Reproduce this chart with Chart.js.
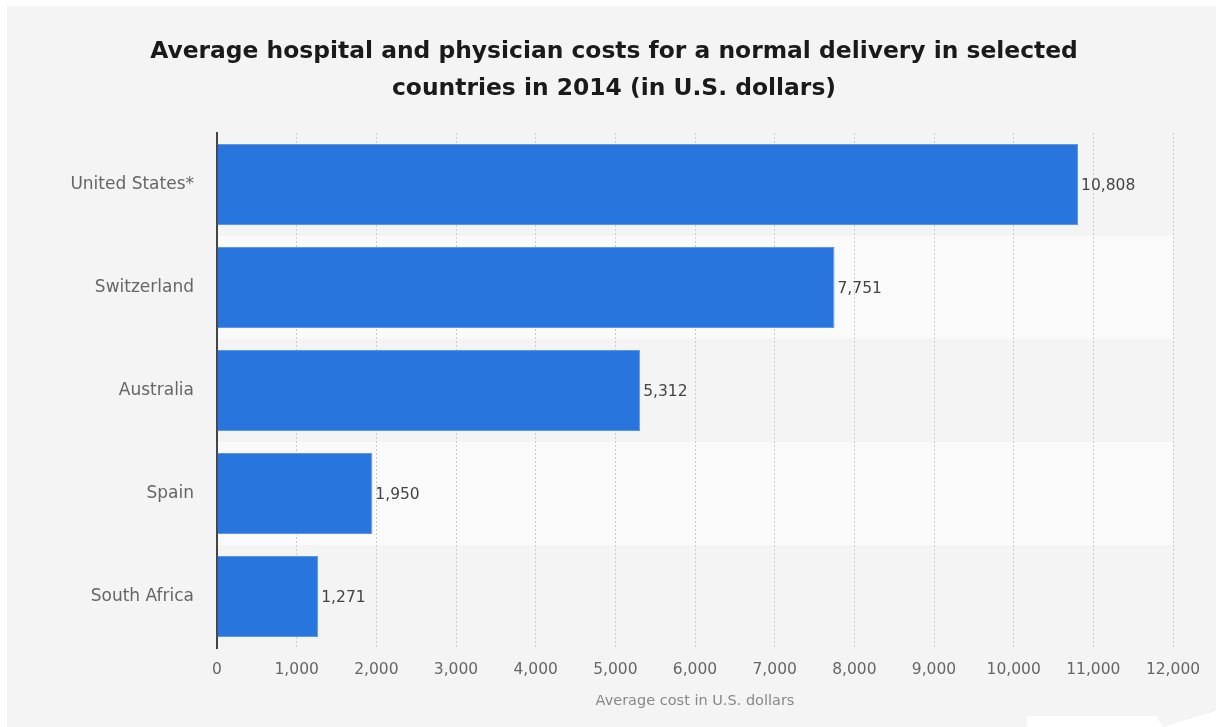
<!DOCTYPE html>
<html>
<head>
<meta charset="utf-8">
<script src="https://cdn.jsdelivr.net/npm/chart.js@4/dist/chart.umd.min.js"></script>
<style>
  html, body { margin: 0; padding: 0; background: #ffffff; }
  #wrap { width: 1216px; height: 727px; }
</style>
</head>
<body>
<div id="wrap"><canvas id="chart" width="1216" height="727"></canvas></div>
<script>
const countries = ["United States*", "Switzerland", "Australia", "Spain", "South Africa"];
const costs = [10808, 7751, 5312, 1950, 1271];
const titleLines = [
  "Average hospital and physician costs for a normal delivery in selected",
  "countries in 2014 (in U.S. dollars)"
];
const axisTitle = "Average cost in U.S. dollars";

const fmt = (v) => v.toLocaleString("en-US");

// grey panel, page-curl corner, title and alternate row shading
const panel = {
  id: "panel",
  beforeDraw(chart) {
    const { ctx, chartArea, scales } = chart;
    ctx.save();
    ctx.fillStyle = "#ffffff";
    ctx.fillRect(0, 0, chart.width, chart.height);
    ctx.fillStyle = "#f4f4f4";
    ctx.fillRect(7, 6, chart.width - 7, chart.height - 6);
    ctx.fillStyle = "#ffffff";
    ctx.beginPath();
    ctx.moveTo(1027, 716);
    ctx.lineTo(1156, 716);
    ctx.lineTo(1163, 727);
    ctx.lineTo(1027, 727);
    ctx.closePath();
    ctx.fill();
    ctx.beginPath();
    ctx.moveTo(1163, 727);
    ctx.lineTo(1216, 711);
    ctx.lineTo(1216, 727);
    ctx.closePath();
    ctx.fill();

    ctx.fillStyle = "#1a1a1a";
    ctx.font = "bold 23.4px 'DejaVu Sans'";
    ctx.textAlign = "center";
    ctx.textBaseline = "middle";
    ctx.fillText(titleLines[0], 614, 52);
    ctx.fillText(titleLines[1], 614, 89);

    const step = (chartArea.bottom - chartArea.top) / countries.length;
    ctx.fillStyle = "#fafafa";
    countries.forEach((c, i) => {
      if (i % 2 === 1) {
        const cy = scales.y.getPixelForValue(i);
        ctx.fillRect(chartArea.left, cy - step / 2, chartArea.right - chartArea.left, step);
      }
    });
    ctx.restore();
  }
};

// value labels at the end of each bar
const valueLabels = {
  id: "valueLabels",
  afterDatasetsDraw(chart) {
    const ctx = chart.ctx;
    const meta = chart.getDatasetMeta(0);
    ctx.save();
    ctx.fillStyle = "#444444";
    ctx.font = "15.5px 'DejaVu Sans'";
    ctx.textAlign = "left";
    ctx.textBaseline = "middle";
    meta.data.forEach((bar, i) => {
      ctx.fillText(fmt(costs[i]), bar.x + 3, bar.y + 1);
    });
    ctx.restore();
  }
};

new Chart(document.getElementById("chart"), {
  type: "bar",
  data: {
    labels: countries,
    datasets: [{
      data: costs,
      backgroundColor: "#2876dd",
      borderColor: "#5b97e6",
      borderWidth: 1,
      borderSkipped: "left",
      barPercentage: 0.786,
      categoryPercentage: 1
    }]
  },
  options: {
    indexAxis: "y",
    responsive: false,
    animation: false,
    layout: { padding: { top: 133, right: 43, bottom: 0, left: 0 } },
    plugins: {
      legend: { display: false },
      tooltip: { enabled: false },
      title: { display: false }
    },
    scales: {
      x: {
        min: 0,
        max: 12000,
        ticks: {
          stepSize: 1000,
          padding: 13,
          color: "#666666",
          font: { family: "'DejaVu Sans'", size: 15.5 },
          callback: (v) => fmt(v)
        },
        grid: {
          color: "#cccccc",
          lineWidth: 1,
          drawTicks: false
        },
        border: { display: false, dash: [2, 2] },
        title: {
          display: true,
          text: axisTitle,
          color: "#888888",
          font: { family: "'DejaVu Sans'", size: 14.5 },
          padding: { top: 10, bottom: 17 }
        },
        afterFit(scale) { scale.height = 79; }
      },
      y: {
        ticks: {
          padding: 23,
          color: "#666666",
          font: { family: "'DejaVu Sans'", size: 17 }
        },
        grid: { display: false, drawTicks: false },
        border: { display: true, color: "#444444", width: 2 },
        afterFit(scale) { scale.width = 217; }
      }
    }
  },
  plugins: [panel, valueLabels]
});
</script>
</body>
</html>
